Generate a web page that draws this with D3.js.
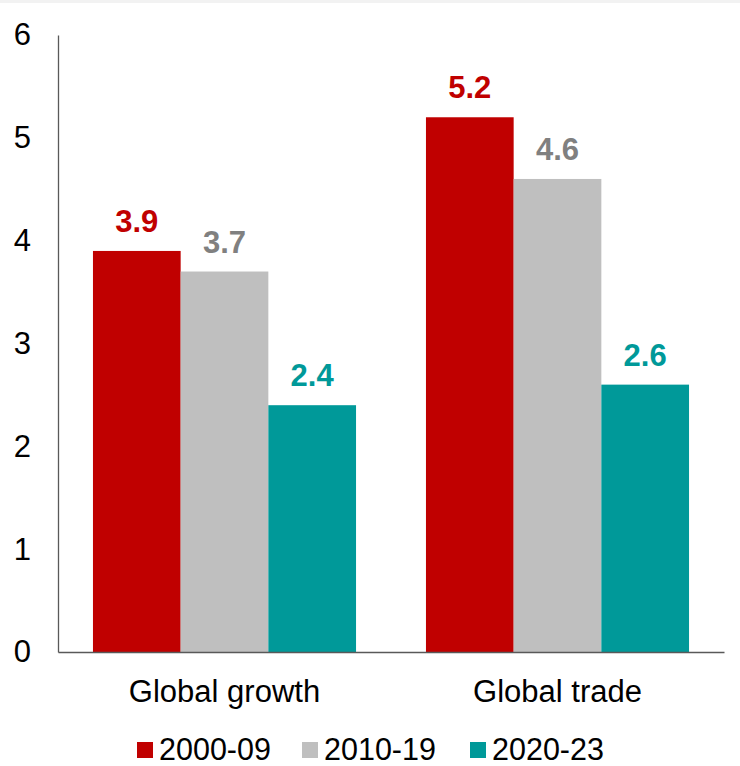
<!DOCTYPE html>
<html>
<head>
<meta charset="utf-8">
<script src="https://cdn.jsdelivr.net/npm/d3@7"></script>
<style>
  html, body { margin: 0; padding: 0; background: #fff; }
  svg { display: block; font-family: "Liberation Sans", Arial, sans-serif; }
</style>
</head>
<body>
<svg id="chart" width="740" height="766"></svg>
<script>
// Average annual growth, %
const categories = ["Global growth", "Global trade"];
const periods = ["2000-09", "2010-19", "2020-23"];
const values2000 = [3.9, 5.2];
const values2010 = [3.7, 4.6];
const values2020 = [2.4, 2.6];
const yTicks = [0, 1, 2, 3, 4, 5, 6];

const barColors = ["#C00000", "#BFBFBF", "#009999"];
const labelColors = ["#C00000", "#808080", "#009999"];

const series = [values2000, values2010, values2020];

const svg = d3.select("#chart");

// thin band along the top edge
svg.append("rect").attr("x", 0).attr("y", 0).attr("width", 740).attr("height", 3).attr("fill", "#F2F2F2");

const x0 = d3.scaleBand().domain(categories).range([58, 724]).paddingInner(0.21).paddingOuter(0.105);
const x1 = d3.scaleBand().domain(periods).range([0, x0.bandwidth()]).padding(0);
const y = d3.scaleLinear().domain([0, 6]).range([652, 35]);

// bars
const groups = svg.append("g").selectAll("g")
  .data(categories)
  .join("g")
  .attr("transform", d => `translate(${x0(d)},0)`);

groups.selectAll("rect")
  .data((c, ci) => periods.map((p, pi) => ({ p, pi, v: series[pi][ci] })))
  .join("rect")
  .attr("x", d => x1(d.p))
  .attr("y", d => y(d.v))
  .attr("width", x1.bandwidth())
  .attr("height", d => y(0) - y(d.v))
  .attr("fill", d => barColors[d.pi]);

groups.selectAll("text")
  .data((c, ci) => periods.map((p, pi) => ({ p, pi, v: series[pi][ci] })))
  .join("text")
  .attr("x", d => x1(d.p) + x1.bandwidth() / 2)
  .attr("y", d => y(d.v) - 19)
  .attr("text-anchor", "middle")
  .attr("font-size", 31)
  .attr("font-weight", "bold")
  .attr("fill", d => labelColors[d.pi])
  .text(d => d3.format(".1f")(d.v));

// y axis
const yAxis = svg.append("g")
  .attr("transform", "translate(58,0)")
  .call(d3.axisLeft(y).tickValues(yTicks).tickSize(0).tickPadding(27).tickFormat(d3.format("d")));
yAxis.select(".domain").attr("stroke", "#595959").attr("stroke-width", 1.3);
yAxis.selectAll("text").attr("font-size", 31).attr("fill", "#000").attr("font-family", "Liberation Sans, Arial, sans-serif");

// x axis
const xAxis = svg.append("g")
  .attr("transform", `translate(0,${y(0)})`)
  .call(d3.axisBottom(x0).tickSize(0).tickPadding(28));
xAxis.select(".domain").attr("stroke", "#595959").attr("stroke-width", 1.5);
xAxis.selectAll("text").attr("font-size", 31).attr("fill", "#000").attr("font-family", "Liberation Sans, Arial, sans-serif");

// legend
const legendX = [137, 302, 470];
const legend = svg.append("g").selectAll("g")
  .data(periods)
  .join("g")
  .attr("transform", (d, i) => `translate(${legendX[i]},742)`);
legend.append("rect").attr("width", 16).attr("height", 16).attr("fill", (d, i) => barColors[i]);
legend.append("text")
  .attr("x", 22).attr("y", 18)
  .attr("font-size", 30.5)
  .attr("fill", "#000")
  .text(d => d);
</script>
</body>
</html>
